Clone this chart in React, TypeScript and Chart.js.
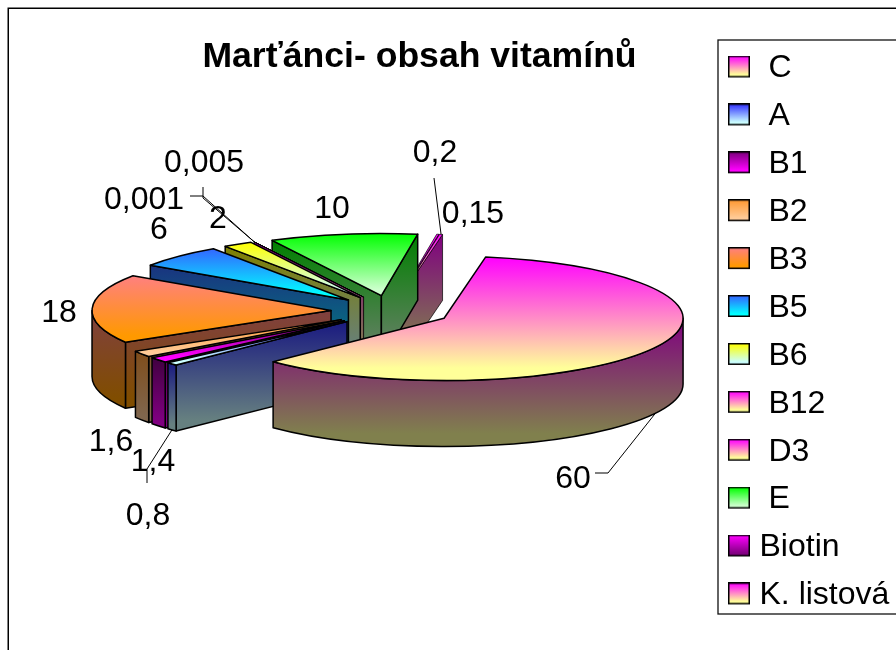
import React, { useEffect, useRef } from "react";
import { Chart, registerables } from "chart.js";

Chart.register(...registerables);

const categories = ["C", "A", "B1", "B2", "B3", "B5", "B6", "B12", "D3", "E", "Biotin", "K. listová"];
const values = [60, 0.8, 1.4, 1.6, 18, 6, 2, 0.001, 0.005, 10, 0.15, 0.2];
const chartTitle = "Marťánci- obsah vitamínů";

// top and bottom colours of each slice's vertical gradient
const topColors = [
  [255, 0, 255], [51, 51, 255], [128, 0, 128], [255, 153, 51], [255, 128, 128], [51, 102, 255],
  [255, 255, 0], [255, 0, 255], [255, 0, 255], [0, 255, 0], [255, 0, 255], [255, 0, 255],
];
const bottomColors = [
  [255, 255, 153], [204, 255, 255], [255, 0, 255], [255, 204, 153], [255, 153, 0], [0, 255, 255],
  [204, 255, 255], [255, 255, 153], [255, 255, 153], [204, 255, 204], [128, 0, 128], [255, 255, 153],
];

// legend labels with a leading space in the original
const paddedLegendEntries = 10;

// data-label centres and the label end of their leader lines
const labelCenters = [
  [573, 479], [148, 516], [153, 462], [111, 442], [59, 313], [159, 230],
  [218, 219], [144, 200], [204, 163], [332, 209], [473, 214], [435, 153],
];
const leaderStarts: Record<number, number[][]> = {
  0: [[595, 473], [608, 473]],
  1: [[147, 483], [147, 469]],
  7: [[190, 196], [203, 196]],
  8: [[203, 187], [203, 198]],
  11: [[434, 178]],
};

const FONT = "'Liberation Sans', Arial, sans-serif";
const CX = 391;
const CY = 311;
const RADIUS = 239;
const SQUASH = 0.26;
const DEPTH = 66;
const EXPLODE = 60;
const ROTATION = 10;
const LABEL_SIZE = 32;
const TITLE_SIZE = 35.6;
const TAU = Math.PI * 2;

const rgb = (c: number[], f = 1) => `rgb(${c.map((v) => Math.round(v * f)).join(",")})`;

const makeSwatch = (i: number) => {
  const s = document.createElement("canvas");
  s.width = 22;
  s.height = 26;
  const c = s.getContext("2d")!;
  const g = c.createLinearGradient(0, 1, 0, 21);
  g.addColorStop(0, rgb(topColors[i]));
  g.addColorStop(0.9, rgb(bottomColors[i]));
  c.fillStyle = g;
  c.fillRect(0, 0, 22, 22);
  c.strokeStyle = "#000";
  c.lineWidth = 1.5;
  c.strokeRect(0.75, 0.75, 20.5, 20.5);
  return s;
};

const contains = (a: number, s: number, e: number) => {
  for (let n = -2; n <= 2; n++) {
    const v = a + n * TAU;
    if (v >= s && v <= e) return true;
  }
  return false;
};

const vertical = (ctx: CanvasRenderingContext2D, y0: number, y1: number, i: number, f: number) => {
  const g = ctx.createLinearGradient(0, y0, 0, y1);
  g.addColorStop(0, rgb(topColors[i], f));
  g.addColorStop(0.9, rgb(bottomColors[i], f));
  return g;
};

const pie3d = {
  id: "pie3d",
  afterLayout(chart: any) {
    const area = chart.chartArea;
    area.left = CX - 300;
    area.right = CX + 300;
    area.top = CY - 300;
    area.bottom = CY + 300;
    area.width = 600;
    area.height = 600;
    const t = chart.titleBlock;
    t.left = 419.5 - 300;
    t.right = 419.5 + 300;
    t.top = 57 - (TITLE_SIZE * 1.2) / 2;
    const l = chart.legend;
    l.left = 718.6;
    l.top = 36.6;
    l.right = 1000;
    l.bottom = 650;
  },
  beforeDraw(chart: any) {
    const ctx = chart.ctx;
    ctx.save();
    ctx.fillStyle = "#fff";
    ctx.fillRect(0, 0, chart.width, chart.height);
    ctx.strokeStyle = "#000";
    ctx.lineWidth = 1.5;
    ctx.strokeRect(8.25, 8.25, 2000, 2000);
    ctx.lineWidth = 1.3;
    ctx.strokeStyle = "#111";
    ctx.strokeRect(718, 40, 2000, 574);
    ctx.restore();
  },
  beforeDatasetDraw(chart: any, args: any) {
    const ctx: CanvasRenderingContext2D = chart.ctx;
    const arcs = args.meta.data;
    // back to front: the thin slices behind E, then round to the large front slice
    const last = arcs.length - 1;
    const middle = [...arcs.keys()].slice(1, last - 1).reverse();
    const order = [last - 1, last, ...middle, 0];
    ctx.save();
    ctx.strokeStyle = "#000";
    ctx.lineJoin = "round";
    for (const i of order) {
      const arc = arcs[i];
      const s = arc.startAngle;
      const e = arc.endAngle;
      const mid = (s + e) / 2;
      const R = arc.outerRadius;
      const ax = arc.x + Math.cos(mid) * EXPLODE;
      const ay = arc.y + Math.sin(mid) * EXPLODE * SQUASH;
      const rim = (a: number, dy = 0) => [ax + R * Math.cos(a), ay + R * SQUASH * Math.sin(a) + dy];
      ctx.lineWidth = e - s < 0.02 ? 0.7 : 1.5;

      // radial cut faces
      const face = (a: number) => {
        const p = rim(a);
        ctx.beginPath();
        ctx.moveTo(ax, ay);
        ctx.lineTo(p[0], p[1]);
        ctx.lineTo(p[0], p[1] + DEPTH);
        ctx.lineTo(ax, ay + DEPTH);
        ctx.closePath();
        ctx.fillStyle = vertical(ctx, Math.min(ay, p[1]), Math.max(ay, p[1]) + DEPTH, i, 0.5);
        ctx.fill();
        ctx.stroke();
      };
      if (Math.cos(s) < 0) face(s);
      if (Math.cos(e) > 0) face(e);

      // curved outer wall (front half only)
      for (let n = -2; n <= 2; n++) {
        const i1 = Math.max(s, n * TAU);
        const i2 = Math.min(e, n * TAU + Math.PI);
        if (i2 <= i1) continue;
        const a = rim(i1);
        const b = rim(i2);
        const bottom = contains(Math.PI / 2, i1, i2) ? ay + R * SQUASH : Math.max(a[1], b[1]);
        ctx.beginPath();
        ctx.moveTo(a[0], a[1]);
        ctx.ellipse(ax, ay, R, R * SQUASH, 0, i1, i2);
        ctx.lineTo(b[0], b[1] + DEPTH);
        ctx.ellipse(ax, ay + DEPTH, R, R * SQUASH, 0, i2, i1, true);
        ctx.closePath();
        ctx.fillStyle = vertical(ctx, Math.min(a[1], b[1]), bottom + DEPTH, i, 0.5);
        ctx.fill();
        ctx.stroke();
      }

      // top sector: the library's own arc, squashed and moved outwards
      const ys = [0, R * Math.sin(s), R * Math.sin(e)];
      if (contains(Math.PI / 2, s, e)) ys.push(R);
      if (contains(-Math.PI / 2, s, e)) ys.push(-R);
      const grad = vertical(ctx, arc.y + Math.min(...ys), arc.y + Math.max(...ys), i, 1);
      arc.options = Object.assign({}, arc.options, { backgroundColor: grad, borderWidth: 0, offset: 0 });
      ctx.save();
      ctx.translate(ax - arc.x, ay);
      ctx.scale(1, SQUASH);
      ctx.translate(0, -arc.y);
      arc.draw(ctx, chart.chartArea);
      ctx.restore();

      const p = rim(s);
      ctx.beginPath();
      ctx.moveTo(ax, ay);
      ctx.lineTo(p[0], p[1]);
      ctx.ellipse(ax, ay, R, R * SQUASH, 0, s, e);
      ctx.closePath();
      ctx.stroke();
    }
    ctx.restore();
    return false;
  },
  afterDatasetsDraw(chart: any) {
    const ctx: CanvasRenderingContext2D = chart.ctx;
    const arcs = chart.getDatasetMeta(0).data;
    ctx.save();
    ctx.strokeStyle = "#000";
    ctx.lineWidth = 1;
    for (const key of Object.keys(leaderStarts)) {
      const i = Number(key);
      const arc = arcs[i];
      const mid = (arc.startAngle + arc.endAngle) / 2;
      const ax = arc.x + Math.cos(mid) * EXPLODE;
      const ay = arc.y + Math.sin(mid) * EXPLODE * SQUASH;
      const ex = ax + arc.outerRadius * Math.cos(mid);
      const ey = ay + arc.outerRadius * SQUASH * Math.sin(mid) + (Math.sin(mid) > 0 ? DEPTH : 0);
      const pts = leaderStarts[i];
      ctx.beginPath();
      ctx.moveTo(pts[0][0], pts[0][1]);
      pts.slice(1).forEach((p) => ctx.lineTo(p[0], p[1]));
      ctx.lineTo(ex, ey);
      ctx.stroke();
    }
    ctx.fillStyle = "#000";
    ctx.font = `${LABEL_SIZE}px ${FONT}`;
    ctx.textAlign = "center";
    ctx.textBaseline = "middle";
    values.forEach((v, i) => {
      ctx.fillText(String(v).replace(".", ","), labelCenters[i][0], labelCenters[i][1]);
    });
    ctx.restore();
  },
};

export default function App() {
  const ref = useRef<HTMLCanvasElement>(null);
  useEffect(() => {
    const chart = new Chart(ref.current!, {
      type: "pie",
      data: {
        labels: categories,
        datasets: [
          {
            data: values,
            backgroundColor: topColors.map((c) => rgb(c)),
            borderWidth: 0,
            clip: false,
          } as any,
        ],
      },
      options: {
        animation: false,
        responsive: false,
        rotation: ROTATION,
        radius: RADIUS,
        layout: { padding: 0 },
        events: [],
        plugins: {
          tooltip: { enabled: false },
          title: {
            display: true,
            text: chartTitle,
            color: "#000",
            padding: 0,
            font: { family: FONT, size: TITLE_SIZE, weight: "bold", lineHeight: 1.2 },
          },
          legend: {
            display: true,
            position: "right",
            align: "start",
            labels: {
              color: "#000",
              font: { family: FONT, size: LABEL_SIZE },
              padding: 15.9,
              boxWidth: 9,
              boxHeight: 22,
              usePointStyle: true,
              generateLabels: () =>
                categories.map((c, i) => ({
                  text: (i < paddedLegendEntries ? " " : "") + c,
                  index: i,
                  hidden: false,
                  pointStyle: makeSwatch(i),
                  fillStyle: rgb(topColors[i]),
                  strokeStyle: "#000",
                  lineWidth: 0,
                })),
            },
          },
        },
      } as any,
      plugins: [pie3d],
    });
    return () => chart.destroy();
  }, []);
  return (
    <div>
      <canvas ref={ref} width={896} height={650} style={{ position: "fixed", left: 0, top: 0 }} />
    </div>
  );
}
